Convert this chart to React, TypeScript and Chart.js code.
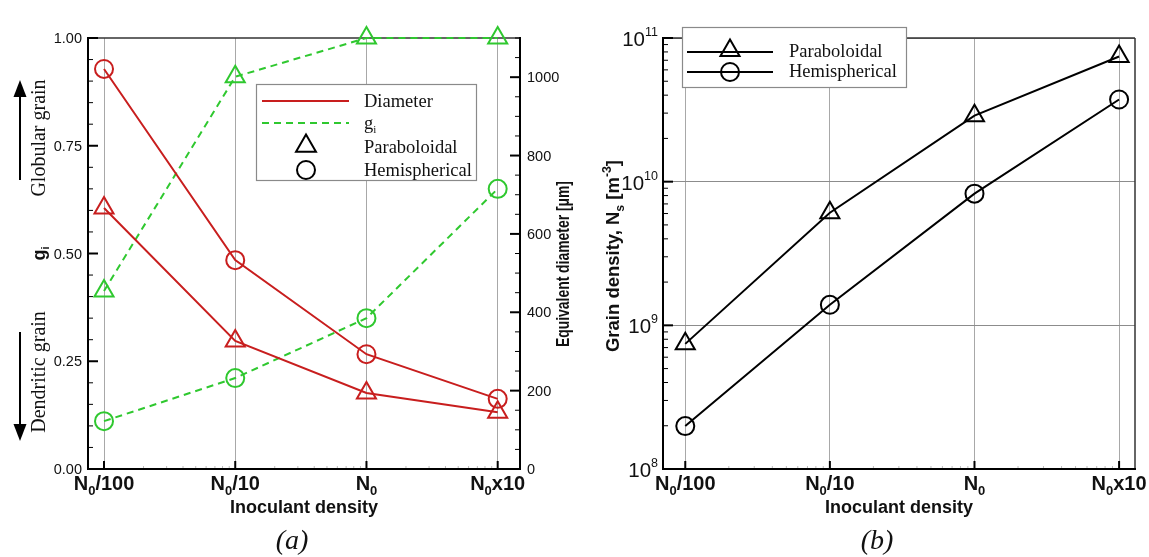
import React, { useEffect, useRef } from 'react';
import { Chart, registerables } from 'chart.js';

Chart.register(...registerables);

// ---------- data ----------
const categoryPos = [0, 1, 2, 3];
const tickBase = ['N', 'N', 'N', 'N'];
const tickSub = ['0', '0', '0', '0'];
const tickRest = ['/100', '/10', '', 'x10'];

const diamParaboloidal = [666, 327, 194, 145];
const diamHemispherical = [1021, 533, 293, 179];
const giParaboloidal = [0.413, 0.91, 1.0, 1.0];
const giHemispherical = [0.111, 0.211, 0.35, 0.65];

const nsParaboloidal = [7.43e8, 6.08e9, 2.88e10, 7.43e10];
const nsHemispherical = [1.99e8, 1.39e9, 8.25e9, 3.73e10];

const giTicks = [0, 0.25, 0.5, 0.75, 1.0];
const giTickLabels = ['0.00', '0.25', '0.50', '0.75', '1.00'];
const diamTicks = [0, 200, 400, 600, 800, 1000];
const diamTickLabels = ['0', '200', '400', '600', '800', '1000'];
const nsDecades = [8, 9, 10, 11];

// ---------- style ----------
const SANS = '"Liberation Sans", Arial, Helvetica, sans-serif';
const SERIF = '"Liberation Serif", "Times New Roman", serif';
const RED = '#c81e1e';
const GREEN = '#2fc82f';
const OX = 575;

type Seg = { t: string; size: number; bold?: boolean; italic?: boolean; dy?: number; family?: string };

function fontOf(s: Seg) {
  return `${s.italic ? 'italic ' : ''}${s.bold ? 'bold ' : ''}${s.size}px ${s.family || SANS}`;
}
function richWidth(ctx: CanvasRenderingContext2D, segs: Seg[]) {
  let w = 0;
  for (const s of segs) {
    ctx.font = fontOf(s);
    w += ctx.measureText(s.t).width;
  }
  return w;
}
function drawRich(
  ctx: CanvasRenderingContext2D,
  segs: Seg[],
  x: number,
  y: number,
  align: 'left' | 'center' | 'right',
  rotate = false,
  fitWidth?: number,
  color = '#111'
) {
  ctx.save();
  ctx.translate(x, y);
  if (rotate) ctx.rotate(-Math.PI / 2);
  const w = richWidth(ctx, segs);
  const sx = fitWidth ? fitWidth / w : 1;
  ctx.scale(sx, 1);
  let cx = align === 'left' ? 0 : align === 'center' ? -w / 2 : -w;
  ctx.textBaseline = 'alphabetic';
  ctx.textAlign = 'left';
  ctx.fillStyle = color;
  for (const s of segs) {
    ctx.font = fontOf(s);
    ctx.fillText(s.t, cx, s.dy || 0);
    cx += ctx.measureText(s.t).width;
  }
  ctx.restore();
}
function seg(ctx: CanvasRenderingContext2D, x1: number, y1: number, x2: number, y2: number) {
  ctx.beginPath();
  ctx.moveTo(x1, y1);
  ctx.lineTo(x2, y2);
  ctx.stroke();
}
function tri(ctx: CanvasRenderingContext2D, x: number, y: number, r: number) {
  ctx.beginPath();
  for (let i = 0; i < 3; i++) {
    const a = (i * 2 * Math.PI) / 3;
    const px = x + Math.sin(a) * r;
    const py = y - Math.cos(a) * r;
    if (i === 0) ctx.moveTo(px, py);
    else ctx.lineTo(px, py);
  }
  ctx.closePath();
  ctx.stroke();
}
function circ(ctx: CanvasRenderingContext2D, x: number, y: number, r: number) {
  ctx.beginPath();
  ctx.arc(x, y, r, 0, Math.PI * 2);
  ctx.stroke();
}
function xTickSegs(i: number): Seg[] {
  return [
    { t: tickBase[i], size: 20, bold: true },
    { t: tickSub[i], size: 13, bold: true, dy: 5 },
    { t: tickRest[i], size: 20, bold: true },
  ];
}

function mkDataset(label: string, values: number[], color: string, style: string, dashed: boolean, axis: string) {
  return {
    label,
    data: categoryPos.map((x, i) => ({ x, y: values[i] })),
    borderColor: color,
    borderWidth: 2,
    borderDash: dashed ? [7, 5] : [],
    pointStyle: style,
    pointRadius: style === 'triangle' ? 11 : 9,
    pointHoverRadius: style === 'triangle' ? 11 : 9,
    pointBorderWidth: 2,
    pointBorderColor: color,
    pointBackgroundColor: 'rgba(0,0,0,0)',
    backgroundColor: 'rgba(0,0,0,0)',
    fill: false,
    tension: 0,
    yAxisID: axis,
    clip: false,
  };
}

function xScale(min: number, max: number) {
  return {
    type: 'linear',
    min,
    max,
    afterBuildTicks: (s: any) => {
      s.ticks = categoryPos.map((v) => ({ value: v }));
    },
    ticks: { display: false },
    grid: { display: true, color: '#a8a8a8', lineWidth: 1, drawTicks: false },
    border: { display: false },
    afterFit: (s: any) => {
      s.height = 88;
    },
  };
}

// ---------- left panel ----------
const leftDecor = {
  id: 'leftDecor',
  beforeDatasetsDraw(chart: any) {
    const { ctx, chartArea: a, scales } = chart;
    const x = scales.x, y = scales.y, y1 = scales.y1;
    ctx.save();
    ctx.lineCap = 'butt';
    ctx.strokeStyle = '#bdbdbd';
    ctx.lineWidth = 1;
    for (let i = 0; i < 3; i++)
      for (let k = 2; k < 10; k++) {
        const px = x.getPixelForValue(i + Math.log10(k));
        seg(ctx, px, a.bottom, px, a.bottom - 3);
      }
    ctx.strokeStyle = '#333';
    ctx.lineWidth = 1.5;
    seg(ctx, a.left, a.top, a.right, a.top);
    ctx.strokeStyle = '#000';
    ctx.lineWidth = 2;
    seg(ctx, a.left, a.top - 1, a.left, a.bottom + 1);
    seg(ctx, a.left - 1, a.bottom, a.right + 1, a.bottom);
    seg(ctx, a.right, a.top - 1, a.right, a.bottom + 1);
    for (const v of categoryPos) {
      const px = x.getPixelForValue(v);
      seg(ctx, px, a.bottom, px, a.bottom - 8);
    }
    for (let v = 0; v <= 1.0001; v += 0.05) {
      const py = y.getPixelForValue(v);
      const major = Math.abs(v / 0.25 - Math.round(v / 0.25)) < 1e-6;
      ctx.lineWidth = major ? 2 : 1;
      seg(ctx, a.left, py, a.left + (major ? 10 : 5), py);
    }
    for (let v = 0; v <= 1100.001; v += 50) {
      const py = y1.getPixelForValue(v);
      const major = v % 200 === 0;
      ctx.lineWidth = major ? 2 : 1;
      seg(ctx, a.right, py, a.right - (major ? 10 : 5), py);
    }
    ctx.restore();
  },
  afterDatasetsDraw(chart: any) {
    const { ctx, chartArea: a, scales } = chart;
    const x = scales.x, y = scales.y, y1 = scales.y1;
    ctx.save();
    giTicks.forEach((v, i) => {
      drawRich(ctx, [{ t: giTickLabels[i], size: 14.5 }], 82, y.getPixelForValue(v) + 5, 'right');
    });
    diamTicks.forEach((v, i) => {
      drawRich(ctx, [{ t: diamTickLabels[i], size: 14.5 }], 527, y1.getPixelForValue(v) + 5, 'left');
    });
    categoryPos.forEach((v, i) => {
      drawRich(ctx, xTickSegs(i), x.getPixelForValue(v), 490, 'center');
    });
    drawRich(ctx, [{ t: 'Inoculant density', size: 18, bold: true }], (a.left + a.right) / 2, 513, 'center');
    drawRich(
      ctx,
      [
        { t: 'g', size: 18, bold: true },
        { t: 'i', size: 11, bold: true, dy: 4 },
      ],
      45,
      y.getPixelForValue(0.5),
      'center',
      true
    );
    drawRich(ctx, [{ t: 'Equivalent diameter [μm]', size: 17.5, bold: true }], 569, 264, 'center', true, 166);
    drawRich(ctx, [{ t: 'Globular grain', size: 20, family: SERIF }], 45, 138, 'center', true);
    drawRich(ctx, [{ t: 'Dendritic grain', size: 20, family: SERIF }], 45, 372, 'center', true);
    ctx.strokeStyle = '#000';
    ctx.fillStyle = '#000';
    ctx.lineWidth = 2;
    seg(ctx, 20, 180, 20, 95);
    ctx.beginPath();
    ctx.moveTo(20, 80);
    ctx.lineTo(13.5, 97);
    ctx.lineTo(26.5, 97);
    ctx.closePath();
    ctx.fill();
    seg(ctx, 20, 332, 20, 426);
    ctx.beginPath();
    ctx.moveTo(20, 441);
    ctx.lineTo(13.5, 424);
    ctx.lineTo(26.5, 424);
    ctx.closePath();
    ctx.fill();
    drawRich(ctx, [{ t: '(a)', size: 28, italic: true, family: SERIF }], 292, 549, 'center');
    // legend
    ctx.fillStyle = '#fff';
    ctx.fillRect(256, 84, 221, 97);
    ctx.strokeStyle = '#8a8a8a';
    ctx.lineWidth = 1.2;
    ctx.strokeRect(256.5, 84.5, 220, 96);
    ctx.lineWidth = 2;
    ctx.strokeStyle = RED;
    seg(ctx, 262, 101, 349, 101);
    ctx.strokeStyle = GREEN;
    ctx.setLineDash([7, 5]);
    seg(ctx, 262, 123, 349, 123);
    ctx.setLineDash([]);
    ctx.strokeStyle = '#000';
    tri(ctx, 306, 146, 11.5);
    circ(ctx, 306, 170, 9);
    drawRich(ctx, [{ t: 'Diameter', size: 18.5, family: SERIF }], 364, 107, 'left');
    drawRich(
      ctx,
      [
        { t: 'g', size: 18.5, family: SERIF },
        { t: 'i', size: 11, family: SERIF, dy: 4 },
      ],
      364,
      129,
      'left'
    );
    drawRich(ctx, [{ t: 'Paraboloidal', size: 18.5, family: SERIF }], 364, 153, 'left');
    drawRich(ctx, [{ t: 'Hemispherical', size: 18.5, family: SERIF }], 364, 176, 'left');
    ctx.restore();
  },
};

function leftConfig(): any {
  return {
    type: 'line',
    data: {
      datasets: [
        mkDataset('Diameter Paraboloidal', diamParaboloidal, RED, 'triangle', false, 'y1'),
        mkDataset('Diameter Hemispherical', diamHemispherical, RED, 'circle', false, 'y1'),
        mkDataset('gi Paraboloidal', giParaboloidal, GREEN, 'triangle', true, 'y'),
        mkDataset('gi Hemispherical', giHemispherical, GREEN, 'circle', true, 'y'),
      ],
    },
    options: {
      responsive: false,
      animation: false,
      devicePixelRatio: 1,
      events: [],
      layout: { padding: { top: 38, left: 0, right: 0, bottom: 0 } },
      plugins: { legend: { display: false }, tooltip: { enabled: false } },
      scales: {
        x: xScale(-0.122, 3.17),
        y: {
          type: 'linear',
          position: 'left',
          min: 0,
          max: 1,
          ticks: { display: false },
          grid: { display: false },
          border: { display: false },
          afterFit: (s: any) => {
            s.width = 88;
          },
        },
        y1: {
          type: 'linear',
          position: 'right',
          min: 0,
          max: 1100,
          ticks: { display: false },
          grid: { display: false },
          border: { display: false },
          afterFit: (s: any) => {
            s.width = 55;
          },
        },
      },
    },
    plugins: [leftDecor],
  };
}

// ---------- right panel ----------
const rightDecor = {
  id: 'rightDecor',
  beforeDatasetsDraw(chart: any) {
    const { ctx, chartArea: a, scales } = chart;
    const x = scales.x, y = scales.y;
    ctx.save();
    ctx.strokeStyle = '#bdbdbd';
    ctx.lineWidth = 1;
    for (let i = 0; i < 3; i++)
      for (let k = 2; k < 10; k++) {
        const px = x.getPixelForValue(i + Math.log10(k));
        seg(ctx, px, a.bottom, px, a.bottom - 3);
      }
    ctx.strokeStyle = '#333';
    ctx.lineWidth = 1.5;
    seg(ctx, a.left, a.top, a.right, a.top);
    seg(ctx, a.right, a.top, a.right, a.bottom);
    ctx.strokeStyle = '#000';
    ctx.lineWidth = 2;
    seg(ctx, a.left, a.top - 1, a.left, a.bottom + 1);
    seg(ctx, a.left - 1, a.bottom, a.right + 1, a.bottom);
    for (const v of categoryPos) {
      const px = x.getPixelForValue(v);
      seg(ctx, px, a.bottom, px, a.bottom - 8);
    }
    for (let d = 8; d <= 11; d++) {
      for (let k = 1; k < 10; k++) {
        if (d === 11 && k > 1) break;
        const py = y.getPixelForValue(k * Math.pow(10, d));
        const major = k === 1;
        ctx.lineWidth = major ? 2 : 1;
        seg(ctx, a.left, py, a.left + (major ? 10 : 5), py);
      }
    }
    ctx.restore();
  },
  afterDatasetsDraw(chart: any) {
    const { ctx, chartArea: a, scales } = chart;
    const x = scales.x, y = scales.y;
    ctx.save();
    nsDecades.forEach((d) => {
      drawRich(
        ctx,
        [
          { t: '10', size: 20.5 },
          { t: String(d), size: 12.5, dy: -10 },
        ],
        83,
        y.getPixelForValue(Math.pow(10, d)) + 8,
        'right'
      );
    });
    categoryPos.forEach((v, i) => {
      drawRich(ctx, xTickSegs(i), x.getPixelForValue(v), 490, 'center');
    });
    drawRich(ctx, [{ t: 'Inoculant density', size: 18, bold: true }], (a.left + a.right) / 2, 513, 'center');
    drawRich(
      ctx,
      [
        { t: 'Grain density, N', size: 18, bold: true },
        { t: 's', size: 12, bold: true, dy: 5 },
        { t: ' [m', size: 18, bold: true },
        { t: '-3', size: 12, bold: true, dy: -8 },
        { t: ']', size: 18, bold: true },
      ],
      619 - OX,
      256,
      'center',
      true,
      192
    );
    drawRich(ctx, [{ t: '(b)', size: 28, italic: true, family: SERIF }], 877 - OX, 549, 'center');
    const lx = 682 - OX;
    ctx.fillStyle = '#fff';
    ctx.fillRect(lx, 27, 225, 61);
    ctx.strokeStyle = '#8a8a8a';
    ctx.lineWidth = 1.2;
    ctx.strokeRect(lx + 0.5, 27.5, 224, 60);
    ctx.strokeStyle = '#000';
    ctx.lineWidth = 2;
    seg(ctx, 687 - OX, 52, 773 - OX, 52);
    seg(ctx, 687 - OX, 72, 773 - OX, 72);
    tri(ctx, 730 - OX, 50.5, 11);
    circ(ctx, 730 - OX, 72, 9);
    drawRich(ctx, [{ t: 'Paraboloidal', size: 18.5, family: SERIF }], 789 - OX, 56.5, 'left');
    drawRich(ctx, [{ t: 'Hemispherical', size: 18.5, family: SERIF }], 789 - OX, 77, 'left');
    ctx.restore();
  },
};

function rightConfig(): any {
  return {
    type: 'line',
    data: {
      datasets: [
        mkDataset('Paraboloidal', nsParaboloidal, '#000', 'triangle', false, 'y'),
        mkDataset('Hemispherical', nsHemispherical, '#000', 'circle', false, 'y'),
      ],
    },
    options: {
      responsive: false,
      animation: false,
      devicePixelRatio: 1,
      events: [],
      layout: { padding: { top: 38, left: 0, right: 14, bottom: 0 } },
      plugins: { legend: { display: false }, tooltip: { enabled: false } },
      scales: {
        x: xScale(-0.154, 3.11),
        y: {
          type: 'logarithmic',
          position: 'left',
          min: 1e8,
          max: 1e11,
          afterBuildTicks: (s: any) => {
            s.ticks = nsDecades.map((d) => ({ value: Math.pow(10, d), major: true }));
          },
          ticks: { display: false },
          grid: { display: true, color: '#8c8c8c', lineWidth: 1, drawTicks: false },
          border: { display: false },
          afterFit: (s: any) => {
            s.width = 88;
          },
        },
      },
    },
    plugins: [rightDecor],
  };
}

export default function App() {
  const leftRef = useRef<HTMLCanvasElement>(null);
  const rightRef = useRef<HTMLCanvasElement>(null);
  useEffect(() => {
    const c1 = new Chart(leftRef.current as HTMLCanvasElement, leftConfig());
    const c2 = new Chart(rightRef.current as HTMLCanvasElement, rightConfig());
    return () => {
      c1.destroy();
      c2.destroy();
    };
  }, []);
  return (
    <div style={{ position: 'fixed', left: 0, top: 0, width: 1149, height: 557, background: '#fff' }}>
      <canvas
        ref={leftRef}
        width={575}
        height={557}
        style={{ position: 'absolute', left: 0, top: 0, width: 575, height: 557 }}
      />
      <canvas
        ref={rightRef}
        width={574}
        height={557}
        style={{ position: 'absolute', left: OX, top: 0, width: 574, height: 557 }}
      />
    </div>
  );
}
